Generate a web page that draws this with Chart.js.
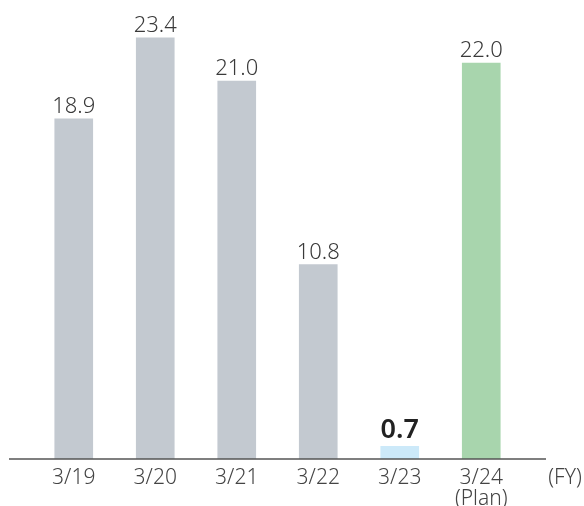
<!DOCTYPE html>
<html>
<head>
<meta charset="utf-8">
<script src="https://cdn.jsdelivr.net/npm/chart.js@4/dist/chart.umd.min.js"></script>
<style>
html,body{margin:0;padding:0;background:#fff;}
#wrap{width:584px;height:506px;}
</style>
</head>
<body>
<div id="wrap"><canvas id="c" width="584" height="506"></canvas></div>
<script>
const categories = [["3/19"], ["3/20"], ["3/21"], ["3/22"], ["3/23"], ["3/24", "(Plan)"]];
const values = [18.9, 23.4, 21.0, 10.8, 0.7, 22.0];
const valueLabels = ["18.9", "23.4", "21.0", "10.8", "0.7", "22.0"];
const barColors = ["#c3c9d0", "#c3c9d0", "#c3c9d0", "#c3c9d0", "#cce9f9", "#a8d5ad"];
const highlightIndex = 4;
const unitLabel = "(FY)";

const FONT = "'Noto Sans', sans-serif";

const overlay = {
  id: 'overlay',
  afterDatasetsDraw(chart) {
    const ctx = chart.ctx;
    const y0 = chart.scales.y.getPixelForValue(0);
    const area = chart.chartArea;
    ctx.save();
    ctx.strokeStyle = '#555555';
    ctx.lineWidth = 1.5;
    ctx.beginPath();
    ctx.moveTo(area.left - 24, y0);
    ctx.lineTo(area.right + 24, y0);
    ctx.stroke();

    const meta = chart.getDatasetMeta(0);
    ctx.textAlign = 'center';
    ctx.textBaseline = 'alphabetic';
    meta.data.forEach((bar, i) => {
      if (i === highlightIndex) {
        ctx.font = "600 27px " + FONT;
        ctx.fillStyle = '#222222';
        ctx.fillText(valueLabels[i], bar.x, bar.y - 8);
      } else {
        ctx.font = "300 22px " + FONT;
        ctx.fillStyle = '#3a3a3a';
        ctx.fillText(valueLabels[i], bar.x, bar.y - 6);
      }
    });

    ctx.font = "300 21px " + FONT;
    ctx.fillStyle = '#444444';
    ctx.textAlign = 'center';
    ctx.fillText(unitLabel, area.right + 43, y0 + 25);
    ctx.restore();
  }
};

new Chart(document.getElementById('c'), {
  type: 'bar',
  data: {
    labels: categories,
    datasets: [{
      data: values,
      backgroundColor: barColors,
      borderWidth: 0,
      barThickness: 38
    }]
  },
  options: {
    responsive: false,
    animation: false,
    events: [],
    layout: { padding: { left: 33, right: 62, top: 9, bottom: 0 } },
    plugins: { legend: { display: false }, tooltip: { enabled: false } },
    scales: {
      x: {
        grid: { display: false, drawTicks: false },
        border: { display: false },
        ticks: {
          color: '#444444',
          font: { family: FONT, size: 21, weight: 300, lineHeight: 1.0 },
          padding: 9,
          maxRotation: 0,
          autoSkip: false
        },
        afterFit(scale) { scale.height = 47; }
      },
      y: {
        display: false,
        min: 0,
        max: 25
      }
    }
  },
  plugins: [overlay]
});
</script>
</body>
</html>
